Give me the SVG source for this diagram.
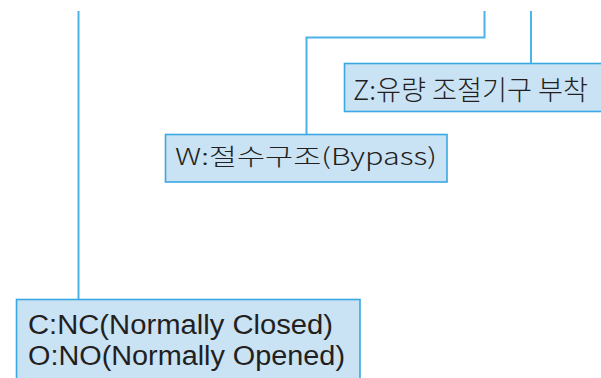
<svg xmlns="http://www.w3.org/2000/svg" width="601" height="378" viewBox="0 0 601 378">
<style>
.box{fill:#c9e2f4;stroke:#3aa8e2;stroke-width:1.6}
.ln{fill:none;stroke:#4db2e8;stroke-width:2}
.t{font-family:"Noto Sans CJK KR","Noto Sans",sans-serif;fill:#231f20;font-weight:300}
.tl{font-family:"Liberation Sans",Arial,sans-serif;fill:#231f20}
</style>
<rect width="601" height="378" fill="#ffffff"/>
<g id="connectors">
<path class="ln" d="M78.5,11 V299"/>
<path class="ln" d="M484.5,11 V37.5 H306.5 V134"/>
<path class="ln" d="M531,11 V63.5"/>
</g>
<g id="node-z">
<rect class="box" x="344.5" y="63.5" width="260" height="48"/>
<text class="t" x="353" y="100" font-size="27" textLength="235" lengthAdjust="spacingAndGlyphs">Z:유량 조절기구 부착</text>
</g>
<g id="node-w">
<rect class="box" x="165.5" y="134.5" width="281.5" height="47.5"/>
<text class="t" x="175" y="165" font-size="23" textLength="262" lengthAdjust="spacingAndGlyphs">W:절수구조(Bypass)</text>
</g>
<g id="node-c">
<rect class="box" x="16.5" y="299.5" width="343.5" height="85"/>
<text class="tl" x="28" y="334" font-size="27" textLength="305" lengthAdjust="spacingAndGlyphs">C:NC(Normally Closed)</text>
<text class="tl" x="28" y="365" font-size="27" textLength="317" lengthAdjust="spacingAndGlyphs">O:NO(Normally Opened)</text>
</g>
</svg>
